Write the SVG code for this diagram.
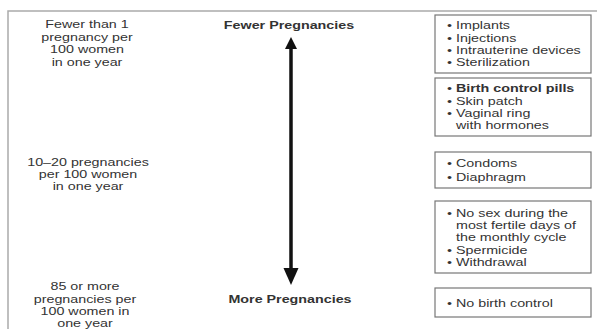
<svg xmlns="http://www.w3.org/2000/svg" width="597" height="329" viewBox="0 0 597 329">
<style>
  .t { font-family: "Liberation Sans", Arial, sans-serif; font-size: 11px; fill: #333; }
  .c { text-anchor: middle; }
  .b { font-weight: bold; }
  .box { fill: #fff; stroke: #777; stroke-width: 1.2; }
  .frame { stroke: #aaa; stroke-width: 1.5; fill: none; }
</style>
<rect width="597" height="329" fill="#fff"/>
<path class="frame" d="M8,329 V11 H597"/>

<g id="label-fewer-1">
  <text class="t c" transform="translate(87,28) scale(1.3,1)">Fewer than 1</text>
  <text class="t c" transform="translate(87,40.5) scale(1.3,1)">pregnancy per</text>
  <text class="t c" transform="translate(87,53) scale(1.3,1)">100 women</text>
  <text class="t c" transform="translate(87,65.5) scale(1.3,1)">in one year</text>
</g>
<g id="label-10-20">
  <text class="t c" transform="translate(88,166) scale(1.3,1)">10–20 pregnancies</text>
  <text class="t c" transform="translate(88,178) scale(1.3,1)">per 100 women</text>
  <text class="t c" transform="translate(88,190) scale(1.3,1)">in one year</text>
</g>
<g id="label-85">
  <text class="t c" transform="translate(85,290) scale(1.3,1)">85 or more</text>
  <text class="t c" transform="translate(85,302.5) scale(1.3,1)">pregnancies per</text>
  <text class="t c" transform="translate(85,315) scale(1.3,1)">100 women in</text>
  <text class="t c" transform="translate(85,327) scale(1.3,1)">one year</text>
</g>

<g id="label-fewer-pregnancies">
  <text class="t c b" transform="translate(289,29) scale(1.3,1)">Fewer Pregnancies</text>
</g>
<g id="label-more-pregnancies">
  <text class="t c b" transform="translate(290,303) scale(1.3,1)">More Pregnancies</text>
</g>

<g id="connectors">
  <line x1="291" y1="46" x2="291" y2="270" stroke="#111" stroke-width="3.5"/>
  <polygon points="291,37 285,49 297,49" fill="#111"/>
  <polygon points="291,285 283.5,268 298.5,268" fill="#111"/>
</g>

<g id="box-1">
  <rect class="box" x="435" y="15" width="156" height="58"/>
  <text class="t" transform="translate(447,29) scale(1.3,1)">•</text>
  <text class="t" transform="translate(456,29) scale(1.3,1)">Implants</text>
  <text class="t" transform="translate(447,41.5) scale(1.3,1)">•</text>
  <text class="t" transform="translate(456,41.5) scale(1.3,1)">Injections</text>
  <text class="t" transform="translate(447,54) scale(1.3,1)">•</text>
  <text class="t" transform="translate(456,54) scale(1.3,1)">Intrauterine devices</text>
  <text class="t" transform="translate(447,66) scale(1.3,1)">•</text>
  <text class="t" transform="translate(456,66) scale(1.3,1)">Sterilization</text>
</g>
<g id="box-2">
  <rect class="box" x="435" y="78" width="156" height="58"/>
  <text class="t" transform="translate(447,92) scale(1.3,1)">•</text>
  <text class="t b" transform="translate(456,92) scale(1.3,1)">Birth control pills</text>
  <text class="t" transform="translate(447,104.5) scale(1.3,1)">•</text>
  <text class="t" transform="translate(456,104.5) scale(1.3,1)">Skin patch</text>
  <text class="t" transform="translate(447,117) scale(1.3,1)">•</text>
  <text class="t" transform="translate(456,117) scale(1.3,1)">Vaginal ring</text>
  <text class="t" transform="translate(456,129) scale(1.3,1)">with hormones</text>
</g>
<g id="box-3">
  <rect class="box" x="435" y="152" width="156" height="36"/>
  <text class="t" transform="translate(447,167) scale(1.3,1)">•</text>
  <text class="t" transform="translate(456,167) scale(1.3,1)">Condoms</text>
  <text class="t" transform="translate(447,181) scale(1.3,1)">•</text>
  <text class="t" transform="translate(456,181) scale(1.3,1)">Diaphragm</text>
</g>
<g id="box-4">
  <rect class="box" x="435" y="201" width="156" height="72"/>
  <text class="t" transform="translate(447,217) scale(1.3,1)">•</text>
  <text class="t" transform="translate(456,217) scale(1.3,1)">No sex during the</text>
  <text class="t" transform="translate(456,229) scale(1.3,1)">most fertile days of</text>
  <text class="t" transform="translate(456,241) scale(1.3,1)">the monthly cycle</text>
  <text class="t" transform="translate(447,254) scale(1.3,1)">•</text>
  <text class="t" transform="translate(456,254) scale(1.3,1)">Spermicide</text>
  <text class="t" transform="translate(447,266) scale(1.3,1)">•</text>
  <text class="t" transform="translate(456,266) scale(1.3,1)">Withdrawal</text>
</g>
<g id="box-5">
  <rect class="box" x="435" y="288" width="156" height="29"/>
  <text class="t" transform="translate(447,307) scale(1.3,1)">•</text>
  <text class="t" transform="translate(456,307) scale(1.3,1)">No birth control</text>
</g>
</svg>
